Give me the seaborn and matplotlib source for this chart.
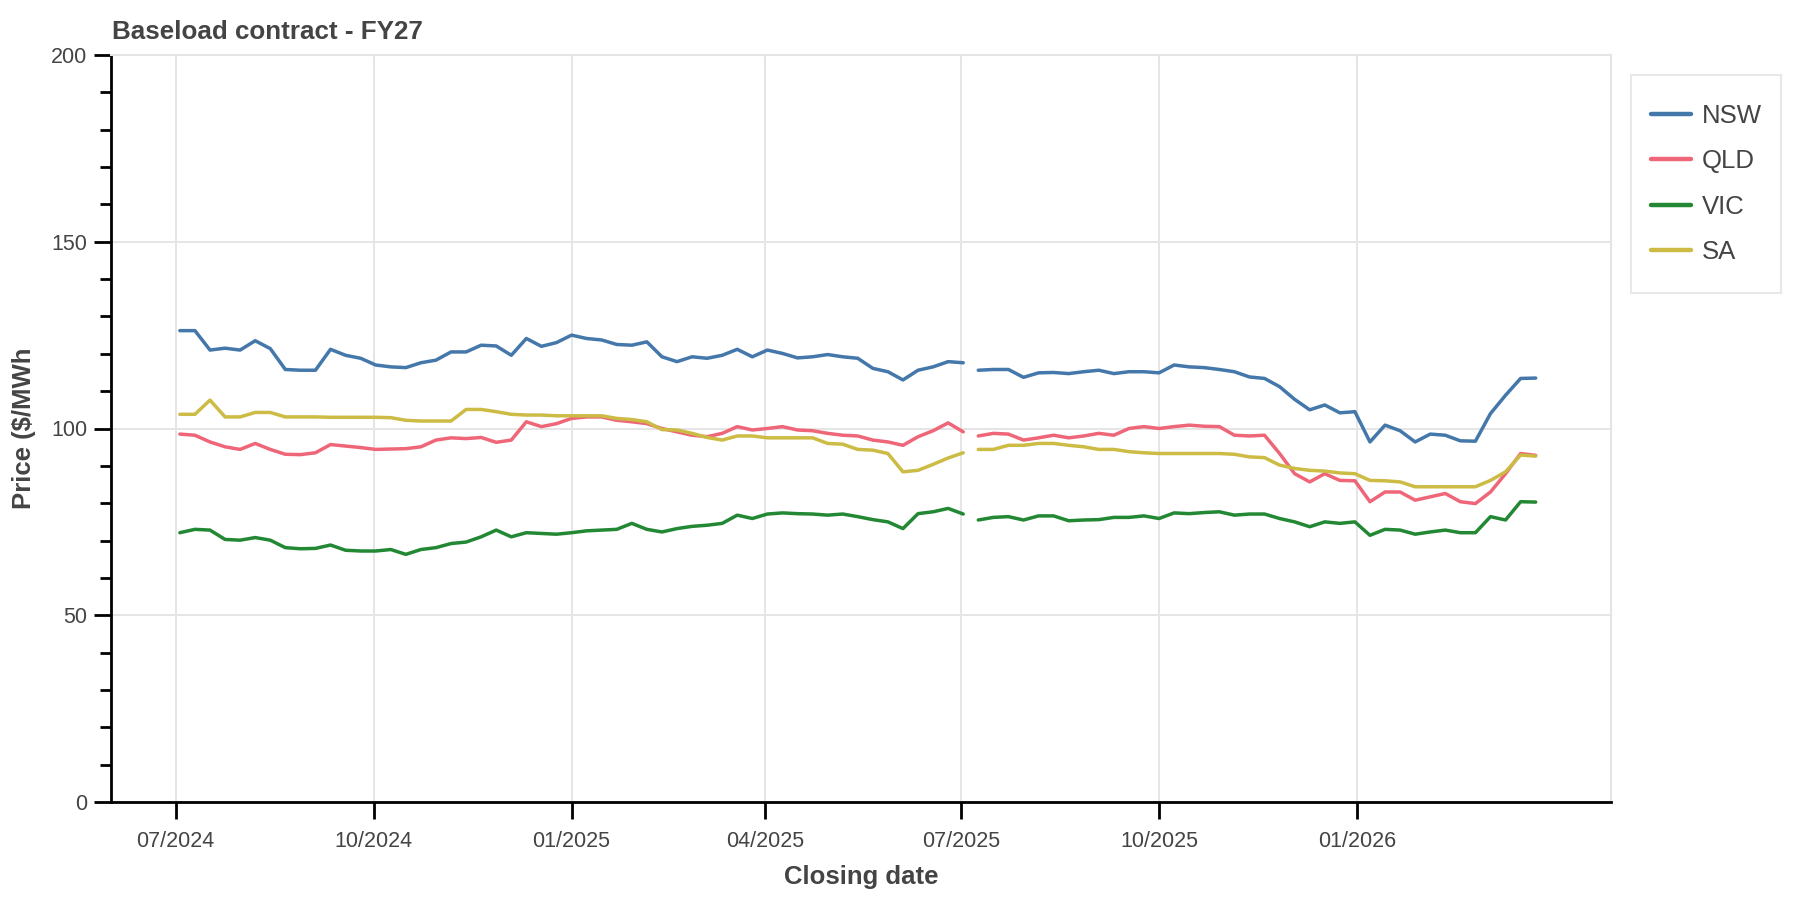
#   BASELOAD CONTRACT FY27 - CLOSING PRICES BY REGION   #

import pandas as pd
import matplotlib.pyplot as plt
import matplotlib.dates as mdates
from matplotlib.ticker import MultipleLocator
import seaborn as sns

# Weekly closing dates, split around the small gap in early July 2025
dates_a = pd.date_range('2024-07-03', '2025-07-02', freq='7D')
dates_b = pd.date_range('2025-07-09', '2026-03-25', freq='7D')

regions = ['NSW', 'QLD', 'VIC', 'SA']
colours = ['#4477AA', '#EE6677', '#228833', '#CCBB44']

# Prices ($/MWh), one value per week
nsw = [126.2, 126.2, 121.0, 121.5, 121.0, 123.5, 121.4, 115.8, 115.6, 115.6, 121.2, 119.6,
       118.8, 117.0, 116.5, 116.3, 117.6, 118.3, 120.5, 120.5, 122.3, 122.1, 119.6,
       124.1, 122.0, 123.0, 125.0, 124.1, 123.7, 122.5, 122.3, 123.2, 119.2, 117.9, 119.2,
       118.8, 119.6, 121.2, 119.2, 121.0, 120.1, 118.9, 119.2, 119.8, 119.2, 118.8,
       116.1, 115.2, 113.0, 115.6, 116.5, 117.9, 117.6,
       115.6, 115.8, 115.8, 113.7, 114.9, 115.0, 114.7, 115.2, 115.6, 114.7, 115.2, 115.2,
       114.9, 117.0, 116.5, 116.3,
       115.8, 115.2, 113.8, 113.4, 111.2, 107.8, 105.0, 106.3, 104.2, 104.5, 96.4, 100.9,
       99.4, 96.4, 98.5, 98.2, 96.7, 96.6, 104.0, 108.9, 113.4, 113.5]

qld = [98.5, 98.2, 96.4, 95.1, 94.4, 96.0, 94.4, 93.1, 93.0, 93.5, 95.7, 95.3,
       94.9, 94.4, 94.5, 94.6, 95.1, 96.9, 97.5, 97.3, 97.6, 96.3, 96.9,
       101.8, 100.5, 101.3, 102.7, 103.1, 103.1, 102.2, 101.8, 101.3, 100.0, 99.1, 98.2,
       97.8, 98.7, 100.5, 99.6, 100.0, 100.5, 99.6, 99.4, 98.7, 98.2, 98.0,
       96.9, 96.4, 95.5, 97.8, 99.4, 101.5, 99.1,
       98.0, 98.7, 98.5, 96.9, 97.5, 98.2, 97.5, 98.0, 98.7, 98.2, 100.0, 100.5,
       100.0, 100.5, 100.9, 100.6,
       100.5, 98.2, 98.0, 98.2, 93.3, 87.9, 85.7, 87.9, 86.1, 86.0, 80.4, 83.0,
       83.0, 80.8, 81.7, 82.6, 80.4, 79.9, 83.0, 87.9, 93.3, 92.8]

vic = [72.1, 73.0, 72.8, 70.3, 70.1, 70.8, 70.1, 68.1, 67.8, 67.9, 68.8, 67.4,
       67.2, 67.2, 67.6, 66.3, 67.6, 68.1, 69.2, 69.6, 71.0, 72.8, 71.0,
       72.1, 71.9, 71.7, 72.1, 72.6, 72.8, 73.0, 74.6, 73.0, 72.3, 73.2, 73.8,
       74.1, 74.6, 76.8, 75.9, 77.1, 77.4, 77.2, 77.1, 76.8, 77.1, 76.4,
       75.6, 75.0, 73.2, 77.2, 77.7, 78.6, 77.1,
       75.5, 76.2, 76.4, 75.5, 76.6, 76.6, 75.3, 75.5, 75.6, 76.2, 76.2, 76.6,
       75.9, 77.4, 77.2, 77.5,
       77.7, 76.8, 77.1, 77.1, 75.9, 75.0, 73.7, 75.0, 74.6, 75.0, 71.4, 73.0,
       72.8, 71.7, 72.3, 72.8, 72.1, 72.1, 76.4, 75.5, 80.4, 80.3]

sa = [103.8, 103.8, 107.6, 103.1, 103.1, 104.3, 104.3, 103.1, 103.1, 103.1, 103.0, 103.0,
      103.0, 103.0, 102.9, 102.2, 102.0, 102.0, 102.0, 105.1, 105.1, 104.5, 103.8,
      103.6, 103.6, 103.4, 103.4, 103.4, 103.4, 102.7, 102.4, 101.8, 99.7, 99.6, 98.7,
      97.6, 96.9, 98.0, 98.0, 97.5, 97.5, 97.5, 97.5, 96.0, 95.8, 94.4,
      94.2, 93.3, 88.4, 88.8, 90.4, 92.1, 93.5,
      94.4, 94.4, 95.5, 95.5, 96.0, 96.0, 95.5, 95.1, 94.4, 94.4, 93.8, 93.5,
      93.3, 93.3, 93.3, 93.3,
      93.3, 93.1, 92.4, 92.2, 90.2, 89.3, 88.8, 88.6, 88.1, 87.9, 86.1, 86.0,
      85.7, 84.4, 84.4, 84.4, 84.4, 84.4, 86.1, 88.4, 92.9, 92.6]

# Quarterly ticks on the date axis (the reference stops at 01/2026)
tick_dates = pd.date_range('2024-07-01', '2026-01-01', freq='QS')


# This function puts the weekly series into one long data frame, with a segment key so the gap is kept
def build_frame():
    dates = dates_a.append(dates_b)
    segment = ['a'] * len(dates_a) + ['b'] * len(dates_b)
    frames = []
    for region, values in zip(regions, [nsw, qld, vic, sa]):
        frames.append(pd.DataFrame({'date': dates, 'price': values,
                                    'region': region, 'segment': segment}))
    return pd.concat(frames, ignore_index=True)


# This function draws the price lines and styles the axes
def baseload_plot(data):
    sns.set_style('white')
    plt.rcParams['font.family'] = ['Liberation Sans', 'DejaVu Sans']
    text_colour = '#444444'
    grid_colour = '#e5e5e5'

    fig = plt.figure(figsize=(18, 9), dpi=100)
    ax = fig.add_axes([111 / 1800, 1 - 802 / 900, 1500 / 1800, 747 / 900])

    sns.lineplot(data=data, x='date', y='price', hue='region', units='segment',
                 estimator=None, palette=dict(zip(regions, colours)),
                 hue_order=regions, linewidth=2.5, ax=ax)

    # Axis ranges + ticks
    ax.set_ylim(0, 200)
    ax.yaxis.set_major_locator(MultipleLocator(50))
    ax.yaxis.set_minor_locator(MultipleLocator(10))
    ax.set_xlim(pd.Timestamp('2024-06-01'), pd.Timestamp('2026-04-29'))
    ax.set_xticks(tick_dates)
    ax.xaxis.set_major_formatter(mdates.DateFormatter('%m/%Y'))

    ax.tick_params(axis='both', which='both', left=True, bottom=True)
    ax.tick_params(axis='both', which='major', direction='out', length=12, width=2,
                   color='black', labelsize=15.5, labelcolor=text_colour)
    ax.tick_params(axis='y', which='minor', direction='out', length=8, width=2, color='black')
    ax.tick_params(axis='x', which='minor', bottom=False)
    ax.tick_params(axis='x', which='major', pad=9)
    ax.tick_params(axis='y', which='major', pad=5)

    # Grid + frame
    ax.grid(True, which='major', color=grid_colour, linewidth=1.4)
    ax.set_axisbelow(True)
    for side in ['top', 'right']:
        ax.spines[side].set_color(grid_colour)
        ax.spines[side].set_linewidth(1.5)
    for side in ['left', 'bottom']:
        ax.spines[side].set_color('black')
        ax.spines[side].set_linewidth(2)

    # Labels
    ax.set_xlabel('Closing date', fontsize=18.5, fontweight='bold', color=text_colour)
    ax.xaxis.set_label_coords(0.5, -0.085)
    ax.set_ylabel('Price ($/MWh', fontsize=18.5, fontweight='bold', color=text_colour)
    ax.yaxis.set_label_coords(-0.050, 0.5)
    fig.text(112 / 1800, 1 - 39 / 900, 'Baseload contract - FY27', fontsize=18.7,
             fontweight='bold', color=text_colour, ha='left', va='baseline')

    # Legend box outside on the right (frame drawn separately, behind the axes, to get the padding right)
    fig.add_artist(plt.Rectangle((1631 / 1800, 1 - 293 / 900), 150 / 1800, 218 / 900,
                                 transform=fig.transFigure, facecolor='white',
                                 edgecolor='#e8e8e8', linewidth=1.5, zorder=-1))
    handles, labels = ax.get_legend_handles_labels()
    leg = ax.legend(handles, labels, loc='center left', bbox_to_anchor=(1651 / 1800, 1 - 184 / 900),
                    bbox_transform=fig.transFigure, borderaxespad=0, borderpad=0,
                    fontsize=18.5, frameon=False, handlelength=1.56, handletextpad=0.42,
                    labelspacing=0.84)
    for line in leg.get_lines():
        line.set_linewidth(3.2)
    for text in leg.get_texts():
        text.set_color(text_colour)

    fig.savefig('out.png', dpi=100)


data_df = build_frame()
baseload_plot(data_df)
